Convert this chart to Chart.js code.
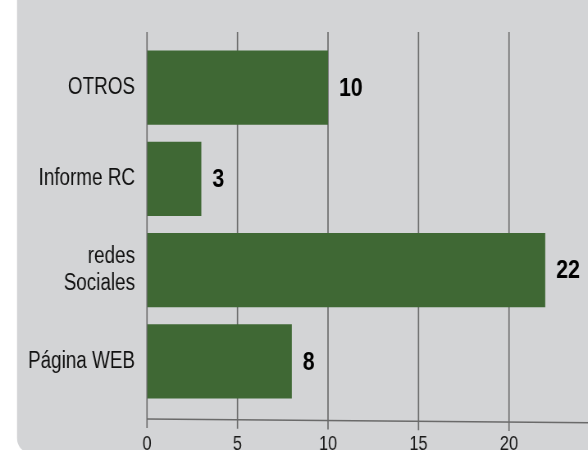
<!DOCTYPE html>
<html><head><meta charset="utf-8">
<script src="https://cdn.jsdelivr.net/npm/chart.js@4/dist/chart.umd.min.js"></script>
<style>
html,body{margin:0;padding:0;background:#fff;overflow:hidden;width:588px;height:450px;position:relative}
#c{position:absolute;left:0;top:0;transform:scaleX(0.82);transform-origin:0 0}
</style>
</head><body><canvas id="c" width="756" height="470"></canvas>
<script>
const categories = ['OTROS', 'Informe RC', ['redes', 'Sociales'], 'Página WEB'];
const values = [10, 3, 22, 8];
const xTicks = [0, 5, 10, 15, 20, 25];

const SX = 0.82; // horizontal squeeze applied by CSS (condensed look)
const FONT = "'Liberation Sans', Arial, sans-serif";
const GRID = '#6a6a6a';

function axisY(ca, x) { // slightly slanted base line
  return ca.bottom + 12 + (x - ca.left) * 3.7 * SX / 441;
}

const bgPlugin = {
  id: 'bg',
  beforeDraw(chart) {
    const ctx = chart.ctx;
    ctx.save();
    ctx.fillStyle = '#d3d4d6';
    ctx.beginPath();
    const x0 = 17 / SX;
    if (ctx.roundRect) ctx.roundRect(x0, -30, chart.width + 30, 482, [0, 0, 12, 14]);
    else ctx.rect(x0, -30, chart.width + 30, 482);
    ctx.fill();
    ctx.restore();
  }
};

const gridPlugin = {
  id: 'grid',
  beforeDatasetsDraw(chart) {
    const ctx = chart.ctx, ca = chart.chartArea, xs = chart.scales.x;
    ctx.save();
    ctx.strokeStyle = GRID;
    ctx.lineWidth = 1.6;
    xTicks.forEach(v => {
      const x = xs.getPixelForValue(v);
      const yb = axisY(ca, x);
      ctx.beginPath();
      ctx.moveTo(x, ca.top - 10);
      ctx.lineTo(x, yb + 9);
      ctx.stroke();
    });
    ctx.lineWidth = 1.4;
    ctx.beginPath();
    ctx.moveTo(ca.left, axisY(ca, ca.left));
    ctx.lineTo(chart.width, axisY(ca, chart.width));
    ctx.stroke();
    ctx.restore();
  }
};

const labelPlugin = {
  id: 'vals',
  afterDatasetsDraw(chart) {
    const ctx = chart.ctx;
    const meta = chart.getDatasetMeta(0);
    ctx.save();
    ctx.fillStyle = '#000';
    ctx.font = "bold 26px " + FONT;
    ctx.textAlign = 'left';
    ctx.textBaseline = 'middle';
    meta.data.forEach((bar, i) => {
      ctx.fillText(String(values[i]), bar.x + 11 / SX, bar.y + 1);
    });
    ctx.restore();
  }
};

new Chart(document.getElementById('c'), {
  type: 'bar',
  data: {
    labels: categories,
    datasets: [{
      data: values,
      backgroundColor: '#3f6834',
      borderWidth: 0,
      barPercentage: 0.811,
      categoryPercentage: 1.0
    }]
  },
  options: {
    indexAxis: 'y',
    responsive: false,
    maintainAspectRatio: false,
    devicePixelRatio: 1,
    animation: false,
    layout: { padding: { left: 0, right: 756 - 599.5 / SX, top: 42, bottom: 13.5 } },
    plugins: { legend: { display: false }, tooltip: { enabled: false } },
    scales: {
      x: {
        min: 0, max: 25,
        afterBuildTicks: s => { s.ticks = xTicks.map(v => ({ value: v })); },
        afterFit: s => { s.height = 49.5; s.paddingLeft = 0; s.paddingRight = 0; },
        grid: { display: true, drawOnChartArea: false, drawTicks: false, color: 'rgba(0,0,0,0)' },
        border: { display: false },
        ticks: { padding: 25.5, color: '#1a1a1a', font: { family: FONT, size: 20 }, maxRotation: 0 }
      },
      y: {
        grid: { display: false, drawTicks: false },
        border: { display: false },
        afterFit: s => { s.width = 147 / SX; s.paddingTop = 0; s.paddingBottom = 0; },
        ticks: { padding: 12 / SX, color: '#111', font: { family: FONT, size: 23, lineHeight: 1.2 } }
      }
    }
  },
  plugins: [bgPlugin, gridPlugin, labelPlugin]
});
</script>
</body></html>
